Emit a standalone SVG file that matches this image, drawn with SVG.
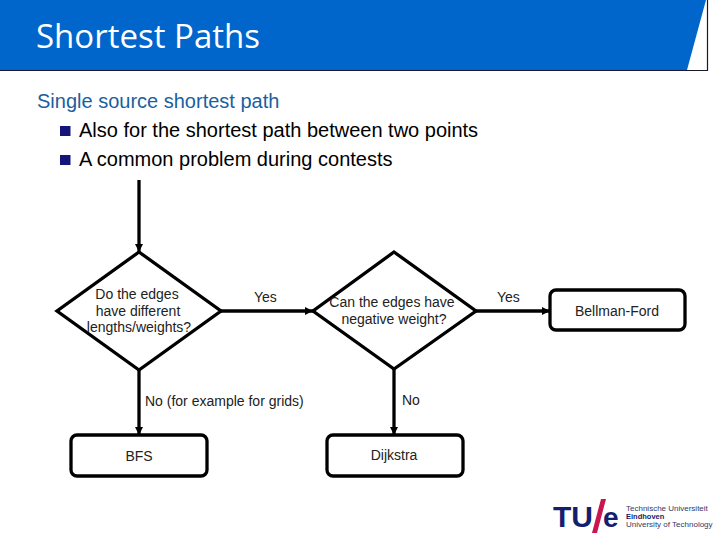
<svg xmlns="http://www.w3.org/2000/svg" width="720" height="540" viewBox="0 0 720 540">
<style>
text{font-family:"Liberation Sans",Arial,sans-serif}
.n{fill:#fff;stroke:#000;stroke-width:3.300;stroke-linejoin:miter}
.b{fill:#fff;stroke:#000;stroke-width:3.300}
.c{fill:none;stroke:#000;stroke-width:3.300}
.t{font-size:14px;fill:#222;text-anchor:middle}
.l{font-size:14px;fill:#222}
.m{font-size:20px;fill:#000}
</style>
<defs>
<marker id="a" markerUnits="userSpaceOnUse" markerWidth="10" markerHeight="10" refX="8" refY="4" orient="auto"><path d="M0 0L8 4L0 8Z" fill="#000"/></marker>
</defs>
<g id="header">
<path d="M0 0H706L687 70H0Z" fill="#0066cc"/>
<path d="M0 70.500H707.500V0" fill="none" stroke="#1a1a2e" stroke-width="1.200"/>
<text x="36" y="48" font-size="33" font-weight="500" fill="#fff" style="font-family:'Open Sans','Liberation Sans',sans-serif">Shortest Paths</text>
</g>
<g id="body">
<text x="37" y="108" font-size="20" fill="#1a5f9e">Single source shortest path</text>
<rect x="60" y="126" width="10.500" height="10" fill="#14147a"/>
<text x="79" y="137" class="m">Also for the shortest path between two points</text>
<rect x="60" y="155" width="10.500" height="10" fill="#14147a"/>
<text x="79" y="166" class="m">A common problem during contests</text>
</g>
<g id="connectors">
<path class="c" d="M139 180V252" marker-end="url(#a)"/>
<path class="c" d="M221 311H313" marker-end="url(#a)"/>
<path class="c" d="M139 370V435" marker-end="url(#a)"/>
<path class="c" d="M394 369V435" marker-end="url(#a)"/>
<path class="c" d="M476 311H550" marker-end="url(#a)"/>
</g>
<g id="q1">
<path class="n" d="M139 252L221 311L139 370L57 311Z"/>
<text class="t" x="137" y="299">Do the edges</text>
<text class="t" x="138" y="316">have different</text>
<text class="t" x="139" y="332">lengths/weights?</text>
</g>
<g id="q2">
<path class="n" d="M394 252L476 311L394 369L313 311Z"/>
<text class="t" x="392" y="307">Can the edges have</text>
<text class="t" x="394" y="324">negative weight?</text>
</g>
<g id="bfs">
<rect class="b" x="71" y="435" width="136" height="41" rx="6"/>
<text class="t" x="139" y="461">BFS</text>
</g>
<g id="dijkstra">
<rect class="b" x="327" y="435" width="136" height="41" rx="6"/>
<text class="t" x="394" y="460">Dijkstra</text>
</g>
<g id="bellman">
<rect class="b" x="550" y="290" width="135" height="40" rx="6"/>
<text class="t" x="617" y="316">Bellman-Ford</text>
</g>
<g id="labels">
<text class="l" x="254" y="302">Yes</text>
<text class="l" x="145" y="406">No (for example for grids)</text>
<text class="l" x="402" y="405">No</text>
<text class="l" x="497" y="302">Yes</text>
</g>
<g id="logo">
<text x="553" y="527" font-size="30" font-weight="bold" fill="#14206e">TU</text>
<path d="M601 499L606 499L597 533L592 533Z" fill="#c8174f"/>
<text x="603" y="527" font-size="28" font-weight="bold" fill="#14206e">e</text>
<text x="626" y="511" font-size="8" fill="#333a6a">Technische Universiteit</text>
<text x="626" y="518.500" font-size="7.500" font-weight="bold" fill="#14206e">Eindhoven</text>
<text x="626" y="527" font-size="8" fill="#333a6a">University of Technology</text>
</g>
</svg>
